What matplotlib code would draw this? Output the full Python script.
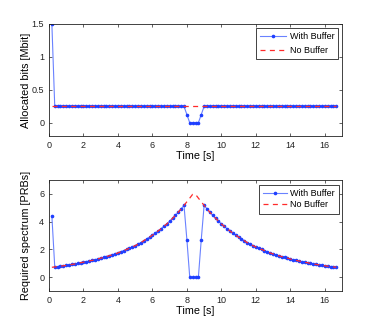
import numpy as np
import matplotlib
matplotlib.use("Agg")
import matplotlib.pyplot as plt

plt.rcParams['font.family'] = ['Liberation Sans', 'DejaVu Sans']

# time samples (s): 100 samples, 1/6 s apart
time_s = np.arange(1, 101) / 6.0

# Allocated bits [Mbit]
bits_with_buffer = [1.5] + [0.25] * 46 + [0.125, 0, 0, 0, 0, 0.125] + [0.25] * 47
bits_no_buffer = [0.25] * 100

# Required spectrum [PRBs], No Buffer (symmetric around ~8.4 s)
spec_no_buffer = [
    0.72, 0.75, 0.77, 0.80, 0.83, 0.86, 0.89, 0.93, 0.96, 1.00,
    1.05, 1.09, 1.13, 1.17, 1.22, 1.26, 1.32, 1.38, 1.43, 1.49,
    1.55, 1.62, 1.68, 1.75, 1.84, 1.92, 2.00, 2.09, 2.18, 2.27,
    2.39, 2.49, 2.63, 2.76, 2.88, 3.03, 3.17, 3.33, 3.48, 3.66,
    3.83, 4.03, 4.23, 4.44, 4.67, 4.91, 5.16, 5.42, 5.68, 5.95,
    5.95, 5.68, 5.42, 5.16, 4.91, 4.67, 4.44, 4.23, 4.03, 3.83,
    3.66, 3.48, 3.33, 3.17, 3.03, 2.88, 2.76, 2.63, 2.49, 2.39,
    2.27, 2.18, 2.09, 2.00, 1.92, 1.84, 1.75, 1.68, 1.62, 1.55,
    1.49, 1.43, 1.38, 1.32, 1.26, 1.22, 1.17, 1.13, 1.09, 1.05,
    1.00, 0.96, 0.93, 0.89, 0.86, 0.83, 0.80, 0.77, 0.75, 0.72,
]
spec_with_buffer = [
    4.40, 0.75, 0.77, 0.80, 0.83, 0.86, 0.89, 0.93, 0.96, 1.00,
    1.05, 1.09, 1.13, 1.17, 1.22, 1.26, 1.32, 1.38, 1.43, 1.49,
    1.55, 1.62, 1.68, 1.75, 1.84, 1.92, 2.00, 2.09, 2.18, 2.27,
    2.39, 2.49, 2.63, 2.76, 2.88, 3.03, 3.17, 3.33, 3.48, 3.66,
    3.83, 4.03, 4.23, 4.44, 4.67, 4.91, 5.16, 2.70, 0.00, 0.00,
    0.00, 0.00, 2.70, 5.16, 4.91, 4.67, 4.44, 4.23, 4.03, 3.83,
    3.66, 3.48, 3.33, 3.17, 3.03, 2.88, 2.76, 2.63, 2.49, 2.39,
    2.27, 2.18, 2.09, 2.00, 1.92, 1.84, 1.75, 1.68, 1.62, 1.55,
    1.49, 1.43, 1.38, 1.32, 1.26, 1.22, 1.17, 1.13, 1.09, 1.05,
    1.00, 0.96, 0.93, 0.89, 0.86, 0.83, 0.80, 0.77, 0.75, 0.72,
]

xticks = [0, 2, 4, 6, 8, 10, 12, 14, 16]
yticks_top = [0, 0.5, 1, 1.5]
ytick_labels_top = ['0', '0.5', '1', '1.5']
yticks_bot = [0, 2, 4, 6]

series_labels = ['With Buffer', 'No Buffer']

W, H = 379, 328
fig = plt.figure(figsize=(W / 100, H / 100), dpi=100)
ax1 = fig.add_axes([49 / W, 1 - 136 / H, 293 / W, 112 / H])
ax2 = fig.add_axes([49 / W, 1 - 291.3 / H, 293 / W, 111.6 / H])

blue_line = '#6a82ff'
blue_mark = '#1f3fff'
red = '#ff2a2a'


def style(ax):
    for s in ax.spines.values():
        s.set_linewidth(0.6)
        s.set_color('#222222')
    ax.tick_params(direction='in', length=2.5, width=0.5, top=True, right=True,
                   labelsize=6.5, colors='#222222', pad=3.5)
    ax.set_xlim(0, 17)
    ax.set_xticks(xticks)
    ax.set_xlabel('Time [s]', fontsize=7.8)
    ax.xaxis.set_label_coords(0.5, -0.135)
    ax.xaxis.label.set_va('top')


def draw(ax, yb, yn, legend_anchor, labelspacing, handlelength):
    l1, = ax.plot(time_s, yb, '-', color=blue_line, lw=0.8, marker='.',
                  markersize=3.2, markerfacecolor=blue_mark, markeredgecolor=blue_mark,
                  label=series_labels[0])
    l2, = ax.plot(time_s, yn, '--', color=red, lw=0.9, label=series_labels[1])
    l2.set_dashes([4, 3.5])
    leg = ax.legend(loc='upper right', bbox_to_anchor=legend_anchor, borderaxespad=0,
                    fontsize=6.5, frameon=True, fancybox=False, framealpha=1,
                    handlelength=handlelength, handletextpad=0.35,
                    labelspacing=labelspacing, borderpad=0.45)
    leg.get_frame().set_edgecolor('#222222')
    leg.get_frame().set_linewidth(0.6)


draw(ax1, bits_with_buffer, bits_no_buffer, (0.987, 0.967), 0.6, 2.9)
style(ax1)
ax1.set_ylim(-0.2, 1.5)
ax1.set_yticks(yticks_top)
ax1.set_yticklabels(ytick_labels_top)
ax1.set_ylabel('Allocated bits [Mbit]', fontsize=7.8)
ax1.yaxis.set_label_coords(-0.062, 0.5)

draw(ax2, spec_with_buffer, spec_no_buffer, (0.99, 0.955), 0.3, 2.7)
style(ax2)
ax2.set_ylim(-1, 7)
ax2.set_yticks(yticks_bot)
ax2.set_ylabel('Required spectrum [PRBs]', fontsize=7.8)
ax2.yaxis.set_label_coords(-0.062, 0.5)

fig.savefig('out.png', dpi=100)
